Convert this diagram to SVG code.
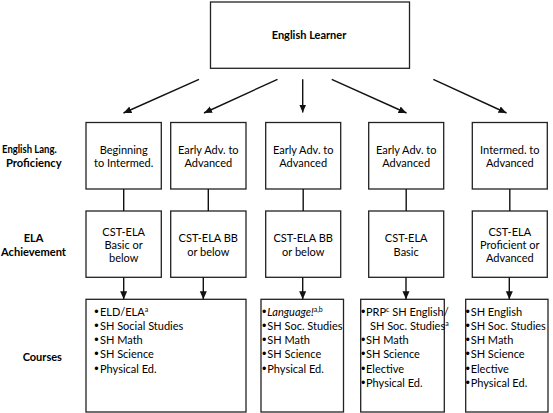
<svg xmlns="http://www.w3.org/2000/svg" width="553" height="413" viewBox="0 0 553 413">
<defs>
<marker id="ah" markerUnits="userSpaceOnUse" markerWidth="9" markerHeight="8" refX="8" refY="3.5" orient="auto">
<path d="M0,0 L8,3.5 L0,7 z" fill="#111"/>
</marker>
<style>
.box{fill:#fff;stroke:#222;stroke-width:1.3}
.ln{stroke:#111;stroke-width:1.4;fill:none}
.ar{stroke:#111;stroke-width:1.4;fill:none;marker-end:url(#ah)}
text{font-family:Lato,"Liberation Sans",sans-serif;fill:#000}
.t{font-size:11px;text-anchor:middle}
.b{font-size:11px;font-weight:bold;text-anchor:middle}
.c{font-size:11px}
.sup{font-size:7px}
.bu{font-family:"Liberation Sans",Arial,sans-serif;font-size:12.5px}
</style>
</defs>
<rect width="553" height="413" fill="#fff"/>

<g id="labels">
<text class="b" x="29.4" y="153.3" textLength="54.7" lengthAdjust="spacingAndGlyphs">English Lang.</text>
<text class="b" x="33.8" y="167.3" textLength="55.7" lengthAdjust="spacingAndGlyphs">Proficiency</text>
<text class="b" x="33.5" y="241.7">ELA</text>
<text class="b" x="33.5" y="256.3" textLength="65" lengthAdjust="spacingAndGlyphs">Achievement</text>
<text class="b" x="42.3" y="360.7">Courses</text>
</g>

<g id="english-learner">
<rect class="box" x="210.5" y="2" width="199" height="66.3"/>
<text class="b" x="309" y="39">English Learner</text>
</g>

<g id="p1">
<rect class="box" x="86" y="122.5" width="75.3" height="66.5"/>
<text class="t" x="123.7" y="154">Beginning</text>
<text class="t" x="123.7" y="167.3">to Intermed.</text>
</g>
<g id="p2">
<rect class="box" x="170.7" y="122.5" width="75.3" height="66.5"/>
<text class="t" x="208.3" y="154">Early Adv. to</text>
<text class="t" x="208.3" y="167.3">Advanced</text>
</g>
<g id="p3">
<rect class="box" x="265.7" y="122.5" width="75" height="66.5"/>
<text class="t" x="303.2" y="154">Early Adv. to</text>
<text class="t" x="303.2" y="167.3">Advanced</text>
</g>
<g id="p4">
<rect class="box" x="368.7" y="122.5" width="75" height="66.5"/>
<text class="t" x="406.2" y="154">Early Adv. to</text>
<text class="t" x="406.2" y="167.3">Advanced</text>
</g>
<g id="p5">
<rect class="box" x="472.3" y="122.5" width="75" height="66.5"/>
<text class="t" x="509.8" y="154">Intermed. to</text>
<text class="t" x="509.8" y="167.3">Advanced</text>
</g>

<g id="a1">
<rect class="box" x="86" y="211" width="75.3" height="66.3"/>
<text class="t" x="123.7" y="235.7">CST-ELA</text>
<text class="t" x="123.7" y="249">Basic or</text>
<text class="t" x="123.7" y="262.3">below</text>
</g>
<g id="a2">
<rect class="box" x="170.7" y="211" width="75.3" height="66.3"/>
<text class="t" x="208.3" y="242.3">CST-ELA BB</text>
<text class="t" x="208.3" y="255.7">or below</text>
</g>
<g id="a3">
<rect class="box" x="265.7" y="211" width="75" height="66.3"/>
<text class="t" x="303.2" y="242.3">CST-ELA BB</text>
<text class="t" x="303.2" y="255.7">or below</text>
</g>
<g id="a4">
<rect class="box" x="368.7" y="211" width="75" height="66.3"/>
<text class="t" x="406.2" y="242.3">CST-ELA</text>
<text class="t" x="406.2" y="255.7">Basic</text>
</g>
<g id="a5">
<rect class="box" x="472.3" y="211" width="75" height="66.3"/>
<text class="t" x="509.8" y="235.7">CST-ELA</text>
<text class="t" x="509.8" y="249">Proficient or</text>
<text class="t" x="509.8" y="262.3">Advanced</text>
</g>

<g id="c1">
<rect class="box" x="86" y="299.3" width="160" height="112.7"/>
<text class="c" y="315.7"><tspan class="bu" x="94.3">•</tspan><tspan x="100">ELD/ELA</tspan><tspan class="sup" dy="-4">a</tspan></text>
<text class="c" y="330"><tspan class="bu" x="94.3">•</tspan><tspan x="100">SH Social Studies</tspan></text>
<text class="c" y="344.2"><tspan class="bu" x="94.3">•</tspan><tspan x="100">SH Math</tspan></text>
<text class="c" y="358.4"><tspan class="bu" x="94.3">•</tspan><tspan x="100">SH Science</tspan></text>
<text class="c" y="372.7"><tspan class="bu" x="94.3">•</tspan><tspan x="100">Physical Ed.</tspan></text>
</g>
<g id="c2">
<rect class="box" x="261" y="299.3" width="82.5" height="112.7"/>
<text class="c" y="315.7"><tspan class="bu" x="262">•</tspan><tspan x="267.3" font-style="italic">Language!</tspan><tspan class="sup" dy="-4">a,b</tspan></text>
<text class="c" y="330"><tspan class="bu" x="262">•</tspan><tspan x="267.3">SH Soc. Studies</tspan></text>
<text class="c" y="344.2"><tspan class="bu" x="262">•</tspan><tspan x="267.3">SH Math</tspan></text>
<text class="c" y="358.4"><tspan class="bu" x="262">•</tspan><tspan x="267.3">SH Science</tspan></text>
<text class="c" y="372.7"><tspan class="bu" x="262">•</tspan><tspan x="267.3">Physical Ed.</tspan></text>
</g>
<g id="c3">
<rect class="box" x="360.7" y="299.3" width="83.6" height="112.7"/>
<text class="c" y="315.7"><tspan class="bu" x="360.9">•</tspan><tspan x="366">PRP</tspan><tspan class="sup" dy="-4">c</tspan><tspan dy="4"> SH English/</tspan></text>
<text class="c" y="330"><tspan x="370">SH Soc. Studies</tspan><tspan class="sup" dy="-4">a</tspan></text>
<text class="c" y="344.2"><tspan class="bu" x="360.9">•</tspan><tspan x="366">SH Math</tspan></text>
<text class="c" y="358.4"><tspan class="bu" x="360.9">•</tspan><tspan x="366">SH Science</tspan></text>
<text class="c" y="372.7"><tspan class="bu" x="360.9">•</tspan><tspan x="366">Elective</tspan></text>
<text class="c" y="387"><tspan class="bu" x="360.9">•</tspan><tspan x="366">Physical Ed.</tspan></text>
</g>
<g id="c4">
<rect class="box" x="465.7" y="299.3" width="82.3" height="112.7"/>
<text class="c" y="315.7"><tspan class="bu" x="465.6">•</tspan><tspan x="470.7">SH English</tspan></text>
<text class="c" y="330"><tspan class="bu" x="465.6">•</tspan><tspan x="470.7">SH Soc. Studies</tspan></text>
<text class="c" y="344.2"><tspan class="bu" x="465.6">•</tspan><tspan x="470.7">SH Math</tspan></text>
<text class="c" y="358.4"><tspan class="bu" x="465.6">•</tspan><tspan x="470.7">SH Science</tspan></text>
<text class="c" y="372.7"><tspan class="bu" x="465.6">•</tspan><tspan x="470.7">Elective</tspan></text>
<text class="c" y="387"><tspan class="bu" x="465.6">•</tspan><tspan x="470.7">Physical Ed.</tspan></text>
</g>

<g id="connectors">
<line class="ar" x1="199" y1="79.3" x2="123.5" y2="113"/>
<line class="ar" x1="277.5" y1="79.3" x2="204" y2="113"/>
<line class="ar" x1="302.7" y1="79.3" x2="302.7" y2="112.5"/>
<line class="ar" x1="331.7" y1="79.3" x2="406.5" y2="113"/>
<line class="ar" x1="433.3" y1="79.3" x2="506.5" y2="113"/>
<line class="ln" x1="123.7" y1="189" x2="123.7" y2="211"/>
<line class="ln" x1="208.3" y1="189" x2="208.3" y2="211"/>
<line class="ln" x1="303.2" y1="189" x2="303.2" y2="211"/>
<line class="ln" x1="406.2" y1="189" x2="406.2" y2="211"/>
<line class="ln" x1="509.8" y1="189" x2="509.8" y2="211"/>
<line class="ar" x1="123.7" y1="277.3" x2="123.7" y2="299.3"/>
<line class="ar" x1="203.3" y1="277.3" x2="203.3" y2="299.3"/>
<line class="ar" x1="302.7" y1="277.3" x2="302.7" y2="299.3"/>
<line class="ar" x1="406" y1="277.3" x2="406" y2="299.3"/>
<line class="ar" x1="509.3" y1="277.3" x2="509.3" y2="299.3"/>
</g>
</svg>
